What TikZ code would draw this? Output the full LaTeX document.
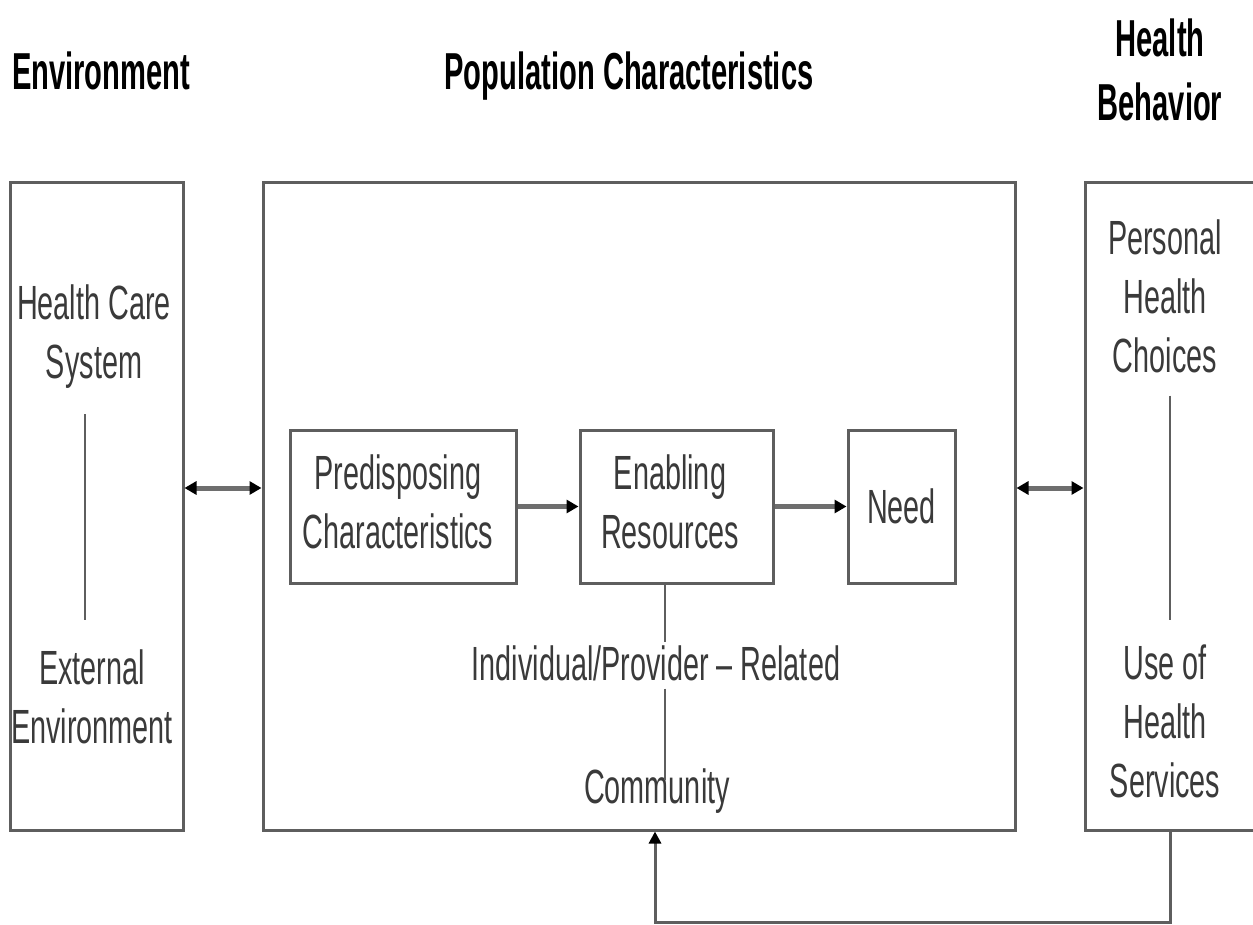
\documentclass[tikz,border=0pt]{standalone}
\usepackage{fontspec}
\newfontfamily\bodyf[FakeStretch=0.6,Ligatures=TeX]{Liberation Sans}
\newfontfamily\titlef[FakeStretch=0.56,Ligatures=TeX]{Liberation Sans}
\usetikzlibrary{arrows.meta,calc}
\definecolor{boxgray}{HTML}{5E5E5E}
\definecolor{arrgray}{HTML}{6E6E6E}
\definecolor{txtgray}{HTML}{3A3A3A}
\tikzset{
  x=1pt, y=-1pt,
  frame/.style={draw=boxgray, line width=3pt, rectangle, inner sep=0pt},
  body/.style={font=\bodyf\fontsize{48}{59}\selectfont, text=txtgray, align=center, inner sep=0pt},
  ttl/.style={font=\titlef\bfseries\fontsize{52}{64}\selectfont, text=black, align=center, inner sep=0pt},
  flow/.style={draw=arrgray, line width=5pt, -{Triangle[length=12pt,width=13pt,black]}},
  dflow/.style={draw=arrgray, line width=5pt, {Triangle[length=12pt,width=13pt,black]}-{Triangle[length=12pt,width=13pt,black]}},
  thinflow/.style={draw=boxgray, line width=3pt, -{Triangle[length=12pt,width=12pt,black]}},
  link/.style={draw=boxgray, line width=2.5pt}
}
\begin{document}
\begin{tikzpicture}
\useasboundingbox (0,0) rectangle (1253,925);
\fill[white] (0,0) rectangle (1253,925);

% titles
\node[ttl, anchor=base] (tenv) at (101,90) {Environment};
\node[ttl, anchor=base] (tpop) at (629,90) {Population Characteristics};
\node[ttl, anchor=north] (thb) at (1160,19) {Health\\Behavior};

% big boxes
\node[frame, minimum width=173pt, minimum height=647pt] (env) at (96.5,506.5) {};
\node[frame, minimum width=752pt, minimum height=647pt] (pop) at (639,506.5) {};
\node[frame, minimum width=180pt, minimum height=647pt] (hb) at (1175,506.5) {};

% inner boxes
\node[frame, minimum width=226pt, minimum height=153pt] (pred) at (403,506.5) {};
\node[frame, minimum width=193pt, minimum height=153pt] (enab) at (676.5,506.5) {};
\node[frame, minimum width=107pt, minimum height=153pt, body] (need) at (901.5,506.5) {Need};
\node[body] (predt) at (398,502) {Predisposing\\Characteristics};
\node[body] (enabt) at (670,502) {Enabling\\Resources};

% texts in environment
\node[body, anchor=north] (hcs) at (94,285) {Health Care\\System};
\node[body, anchor=north] (ext) at (92,650) {External\\Environment};

% texts in health behavior
\node[body, anchor=north] (phc) at (1165,220) {Personal\\Health\\Choices};
\node[body, anchor=north] (uhs) at (1165,645) {Use of\\Health\\Services};

% texts under enabling
\node[body, anchor=base] (ind) at (656,680) {Individual/Provider – Related};
\node[body, anchor=base] (comm) at (657,803) {Community};

% helper coordinates
\coordinate (ay) at (0,488);
\coordinate (lx) at (665,0);
\coordinate (ex) at (85,0);
\coordinate (hx) at (1170,0);
\coordinate (fb1) at (1170,922);
\coordinate (fb2) at (655,922);

% connectors
\draw[dflow] (env.east |- ay) -- (pop.west |- ay);
\draw[dflow] (pop.east |- ay) -- (hb.west |- ay);
\draw[flow] (pred) -- (enab);
\draw[flow] (enab) -- (need);

\draw[link] (enab.south -| lx) -- ($(ind.north -| lx)+(0,-3)$);
\draw[link] ($(ind.south -| lx)+(0,8)$) -- ($(comm.north -| lx)+(0,12)$);

\draw[link] ($(hcs.south -| ex)+(0,25)$) -- ($(ext.north -| ex)+(0,-30)$);
\draw[link] ($(phc.south -| hx)+(0,22)$) -- ($(uhs.north -| hx)+(0,-25)$);

\draw[thinflow] (hb.south -| fb1) -- (fb1) -- (fb2) -- (pop.south -| fb2);
\end{tikzpicture}
\end{document}
